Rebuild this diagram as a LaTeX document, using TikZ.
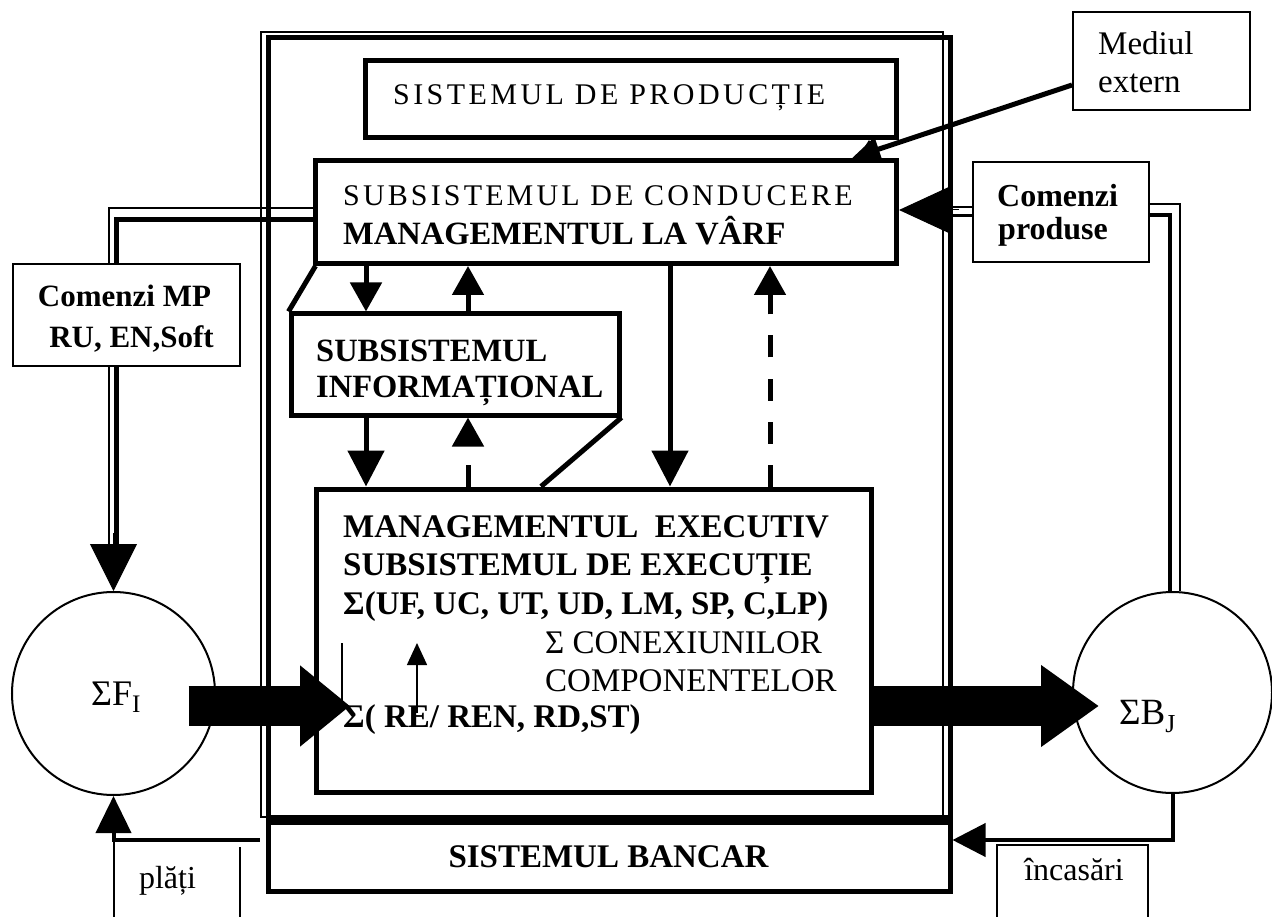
\documentclass[tikz,border=0pt]{standalone}
\usepackage{fontspec}
\setmainfont{Liberation Serif}
\newfontfamily\spfont[LetterSpace=10.5]{Liberation Serif}
\newfontfamily\spprod[LetterSpace=11.5]{Liberation Serif}
\usetikzlibrary{arrows.meta,calc,shapes.geometric}
\begin{document}
\begin{tikzpicture}[x=1pt,y=-1pt,
  thickbox/.style={draw,line width=5pt,inner sep=0pt,rectangle},
  thinbox/.style={draw,line width=2pt,inner sep=0pt,rectangle},
  circ/.style={draw,line width=2pt,ellipse,inner sep=0pt},
  txt/.style={inner sep=0pt,anchor=base west},
  ctxt/.style={inner sep=0pt,anchor=base},
  conn/.style={line width=5pt,-{Triangle[width=31pt,length=29pt]}},
  bconn/.style={line width=5pt,-{Triangle[width=36pt,length=36pt]}},
  dconn/.style={conn,dash pattern=on 22pt off 21pt},
  bigarrow/.style={line width=40pt,-{Triangle[width=78pt,length=#1]}},
  thinl/.style={line width=2pt},
  exfont/.style={font=\fontsize{33}{36}\selectfont},
]
\useasboundingbox (0,0) rectangle (1272,917);
% helper coordinates
\coordinate (Xa) at (366,0);
\coordinate (Xb) at (468,0);
\coordinate (Xc) at (670,0);
\coordinate (Xd) at (770,0);
\coordinate (Xm) at (852,0);
\coordinate (Xs) at (869,0);
\coordinate (Yarr) at (0,706);
\coordinate (Ybot) at (0,840);
\coordinate (Yend) at (0,917);

% outer frame
\draw[thinl] (261,32) rectangle (943,817);
\draw[line width=5pt] (268,37.5) rectangle (950,817);

% boxes
\node[thickbox,minimum width=531pt,minimum height=77pt] (prod) at (631,99) {};
\node[thickbox,minimum width=581.5pt,minimum height=103pt] (cond) at (605.75,212) {};
\node[thickbox,minimum width=328pt,minimum height=101pt] (info) at (455,364.5) {};
\node[thickbox,minimum width=554.5pt,minimum height=303pt] (exec) at (593.75,640.5) {};
\node[thickbox,minimum width=682pt,minimum height=69pt] (bancar) at (609,857) {};
\node[thinbox,minimum width=177pt,minimum height=98pt] (mediul) at (1161.5,61) {};
\node[thinbox,minimum width=176pt,minimum height=100pt] (cprod) at (1061,212) {};
\node[thinbox,minimum width=227pt,minimum height=102pt] (cmp) at (126.5,315) {};
\node[circ,minimum width=203pt,minimum height=203pt] (sf) at (113.5,693.5) {};
\node[circ,minimum width=199pt,minimum height=201pt] (sb) at (1172.5,692.5) {};

% funnel lines of the informational subsystem
\draw[line width=5pt] ($(cond.south west)+(3,0)$) -- (info.north west);
\draw[line width=5pt] (info.south east) -- ($(exec.north west)+(227,0)$);

% texts
\node[txt] (prodt) at (393,105) {\spprod\fontsize{30}{36}\selectfont SISTEMUL DE PRODUCȚIE};
\node[txt] (condt1) at (343,206) {\spfont\fontsize{30}{36}\selectfont SUBSISTEMUL DE CONDUCERE};
\node[txt] (condt2) at (343,245) {\fontsize{32.5}{36}\selectfont\bfseries MANAGEMENTUL LA VÂRF};
\node[txt] (infot1) at (316,362) {\fontsize{32.5}{36}\selectfont\bfseries SUBSISTEMUL};
\node[txt] (infot2) at (316,397) {\fontsize{32.5}{36}\selectfont\bfseries INFORMAȚIONAL};
\node[txt,exfont] (ext1) at (343,537) {\bfseries MANAGEMENTUL\ \ EXECUTIV};
\node[txt,exfont] (ext2) at (343,575) {\bfseries SUBSISTEMUL DE EXECUȚIE};
\node[txt,exfont] (ext3) at (343,614) {\bfseries Σ(UF, UC, UT, UD, LM, SP, C,LP)};
\node[txt,exfont] (ext4) at (545,653) {Σ CONEXIUNILOR};
\node[txt,exfont] (ext5) at (545,691) {COMPONENTELOR};
\node[txt,exfont] (ext6) at (343,727) {\bfseries Σ( RE/ REN, RD,ST)};
\node[txt] (medt1) at (1098,55) {\fontsize{33}{36}\selectfont Mediul};
\node[txt] (medt2) at (1098,93) {\fontsize{33}{36}\selectfont extern};
\node[txt] (cpt1) at (997,207) {\fontsize{32}{36}\selectfont\bfseries Comenzi};
\node[txt] (cpt2) at (998,240) {\fontsize{32}{36}\selectfont\bfseries produse};
\node[ctxt] (cmpt1) at (124.5,307) {\fontsize{31}{36}\selectfont\bfseries Comenzi MP};
\node[ctxt] (cmpt2) at (131.5,348) {\fontsize{31}{36}\selectfont\bfseries RU, EN,Soft};
\node[ctxt] (bant) at (608.5,867) {\fontsize{33}{36}\selectfont\bfseries SISTEMUL BANCAR};
\node[ctxt] (platit) at (167.5,888) {\fontsize{32}{36}\selectfont plăți};
\node[ctxt] (inct) at (1074,880) {\fontsize{32}{36}\selectfont încasări};
\node[txt] (sft) at (91,705) {\fontsize{36}{40}\selectfont ΣF\textsubscript{I}};
\node[txt] (sbt) at (1119,724) {\fontsize{37}{40}\selectfont ΣB\textsubscript{J}};

% arrows between management, information and execution
\draw[conn] (cond.south -| Xa) -- (info.north -| Xa);
\draw[conn] (info.north -| Xb) -- (cond.south -| Xb);
\draw[bconn] (info.south -| Xa) -- (exec.north -| Xa);
\draw[dconn] (exec.north -| Xb) -- (info.south -| Xb);
\draw[bconn] (cond.south -| Xc) -- (exec.north -| Xc);
\draw[dconn] (exec.north -| Xd) -- (cond.south -| Xd);

% external environment
\draw[line width=5pt,-{Triangle[width=24pt,length=28pt]}] ($(mediul.north west)!0.74!(mediul.south west)$) -- (cond.north -| Xm);
\draw[line width=2pt,-{Triangle[width=15pt,length=12pt]}] (cond.north -| Xs) -- (prod.south -| Xs);

% orders for products (right double line)
\draw[thinl] ($(cprod.east)+(0,-8)$) -| ($(sb.north)+(7,0)$);
\draw[line width=4pt] ($(cprod.east)+(0,3)$) -| ($(sb.north)+(-3,0)$);
\draw[thinl] ($(cprod.west)+(0,-5)$) -- +(-22,0);
\draw[line width=3pt] ($(cprod.west)+(0,4)$) -- +(-22,0);
\draw[line width=1pt,-{Triangle[width=46pt,length=50pt]}] ($(cond.east)+(60,-2)$) -- ($(cond.east)+(0,-2)$);

% orders for raw materials (left double line)
\coordinate (Lt) at (109,0);
\coordinate (Lk) at (116.5,0);
\draw[thinl] (cmp.north -| Lt) |- ($(cond.west)+(0,-4)$);
\draw[line width=5pt] (cmp.north -| Lk) |- ($(cond.west)+(0,8)$);
\draw[thinl] (cmp.south -| Lt) -- ($(cmp.south -| Lt)+(0,182)$);
\draw[line width=5pt] (cmp.south -| Lk) -- ($(cmp.south -| Lk)+(0,182)$);
\draw[line width=1pt,-{Triangle[width=47pt,length=47pt]}] ($(sf.north)+(0,-58)$) -- (sf.north);

% big flows
\draw[bigarrow=50pt] ($(sf.center |- Yarr)+(75,0)$) -- ($(exec.west |- Yarr)+(36,0)$);
\draw[bigarrow=58pt] (exec.east |- Yarr) -- ($(sb.west |- Yarr)+(27,0)$);
\draw[line width=1.5pt] (342,643) -- (342,707);
\draw[line width=1.5pt,-{Triangle[width=20pt,length=22pt]}] (417,713) -- (417,643);

% payments
\draw[line width=4pt,-{Triangle[width=35pt,length=37pt]}] ($(bancar.west |- Ybot)+(-6,0)$) -| (sf.south);
\draw[thinl] (sf.south |- Ybot) -- (sf.south |- Yend);
\draw[thinl] (240,847) -- (240,917);
\draw[line width=4pt,-{Triangle[width=33pt,length=33pt]}] (sb.south) |- (bancar.east |- Ybot);
\draw[thinl] (997,917) |- (1148,845) -- (1148,917);
\end{tikzpicture}
\end{document}
